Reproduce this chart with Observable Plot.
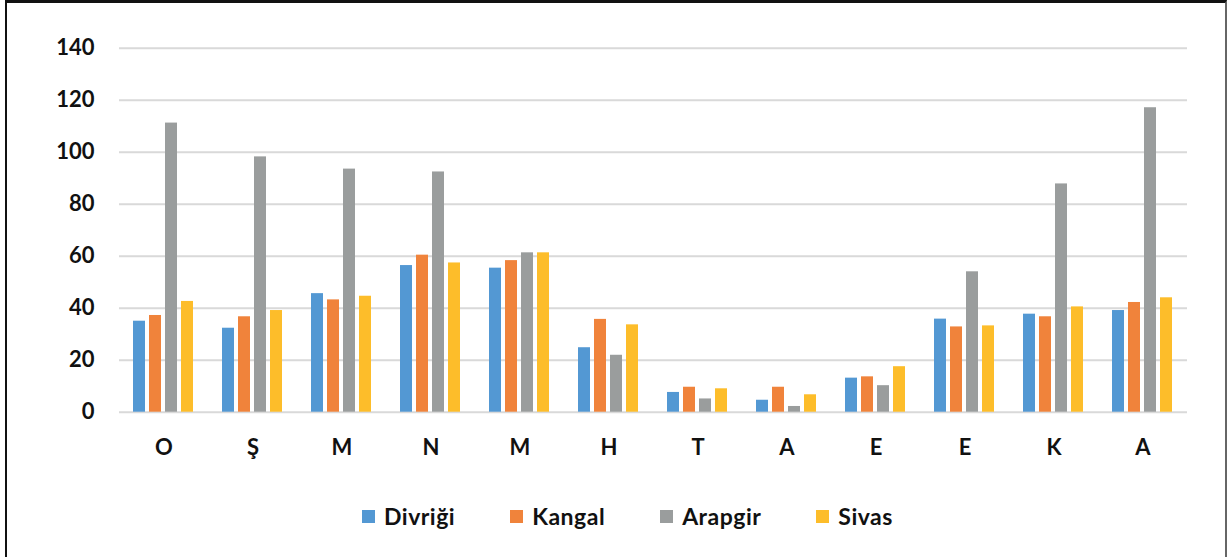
<!DOCTYPE html>
<html>
<head>
<meta charset="utf-8">
<script src="https://cdn.jsdelivr.net/npm/d3@7"></script>
<script src="https://cdn.jsdelivr.net/npm/@observablehq/plot@0.6"></script>
<style>
  html, body { margin: 0; padding: 0; background: #fff; }
  #wrap { position: relative; width: 1227px; height: 557px; overflow: hidden; background: #fff; font-family: Lato, "Open Sans", sans-serif; }
  #frame { position: absolute; left: 5px; top: 0; width: 1218px; height: 640px; border-left: 2px solid #111; border-top: 3px solid #111; border-right: 2px solid #666; }
  #chart { position: absolute; left: 0; top: 0; }
  #legend { position: absolute; top: 502px; left: 362px; display: flex; align-items: center; font-family: Lato, sans-serif; font-weight: 700; font-size: 23px; letter-spacing: 0.5px; color: #111; }
  .item { display: flex; align-items: center; margin-right: 55px; }
  .sw { width: 13px; height: 13px; margin-right: 9px; }
</style>
</head>
<body>
<div id="wrap">
  <div id="frame"></div>
  <div id="chart"></div>
  <div id="legend"></div>
</div>
<script>
const months = ["O", "Ş", "M", "N", "M", "H", "T", "A", "E", "E", "K", "A"];
const cities = ["Divriği", "Kangal", "Arapgir", "Sivas"];
const colors = ["#5398d3", "#f0833b", "#9a9d9d", "#fdbd2a"];
const divrigi = [35, 32.3, 45.6, 56.4, 55.4, 24.8, 7.6, 4.6, 13.1, 35.8, 37.7, 39.1];
const kangal  = [37.2, 36.7, 43.2, 60.4, 58.3, 35.7, 9.6, 9.6, 13.6, 32.8, 36.7, 42.2];
const arapgir = [111.2, 98.2, 93.5, 92.4, 61.3, 21.9, 5.1, 2.2, 10.2, 54.0, 87.8, 117.1];
const sivas   = [42.6, 39.1, 44.6, 57.4, 61.3, 33.6, 9.0, 6.7, 17.5, 33.2, 40.5, 44.0];
const yTicks = [0, 20, 40, 60, 80, 100, 120, 140];

const series = [divrigi, kangal, arapgir, sivas];
const data = months.flatMap((m, i) => cities.map((c, j) => ({month: i, city: c, value: series[j][i]})));

const chart = Plot.plot({
  width: 1227,
  height: 470,
  marginLeft: 117,
  marginRight: 38,
  marginTop: 47.7,
  marginBottom: 58.3,
  style: {fontFamily: "Lato, 'Open Sans', sans-serif", background: "transparent", color: "#111"},
  fx: {domain: d3.range(months.length), paddingInner: 0, paddingOuter: 0, label: null, axis: null},
  x: {domain: cities, paddingInner: 0.22, paddingOuter: 0.87, axis: null},
  y: {domain: [0, 140], axis: null},
  color: {domain: cities, range: colors},
  marks: [
    Plot.gridY(yTicks, {stroke: "#d9d9d9", strokeOpacity: 1, strokeWidth: 2}),
    Plot.barY(data, {fx: "month", x: "city", y: "value", fill: "city"}),
    Plot.axisY(yTicks, {tickSize: 0, tickPadding: 25, fontSize: 22, fontWeight: 700, label: null}),
    Plot.axisFx({anchor: "bottom", tickSize: 0, tickPadding: 27, fontSize: 22, fontWeight: 700, label: null, tickFormat: i => months[i]})
  ]
});
document.getElementById("chart").appendChild(chart);

const legend = document.getElementById("legend");
cities.forEach((c, j) => {
  const it = document.createElement("div");
  it.className = "item";
  const sw = document.createElement("span");
  sw.className = "sw";
  sw.style.background = colors[j];
  const t = document.createElement("span");
  t.textContent = c;
  it.appendChild(sw);
  it.appendChild(t);
  legend.appendChild(it);
});
</script>
</body>
</html>
